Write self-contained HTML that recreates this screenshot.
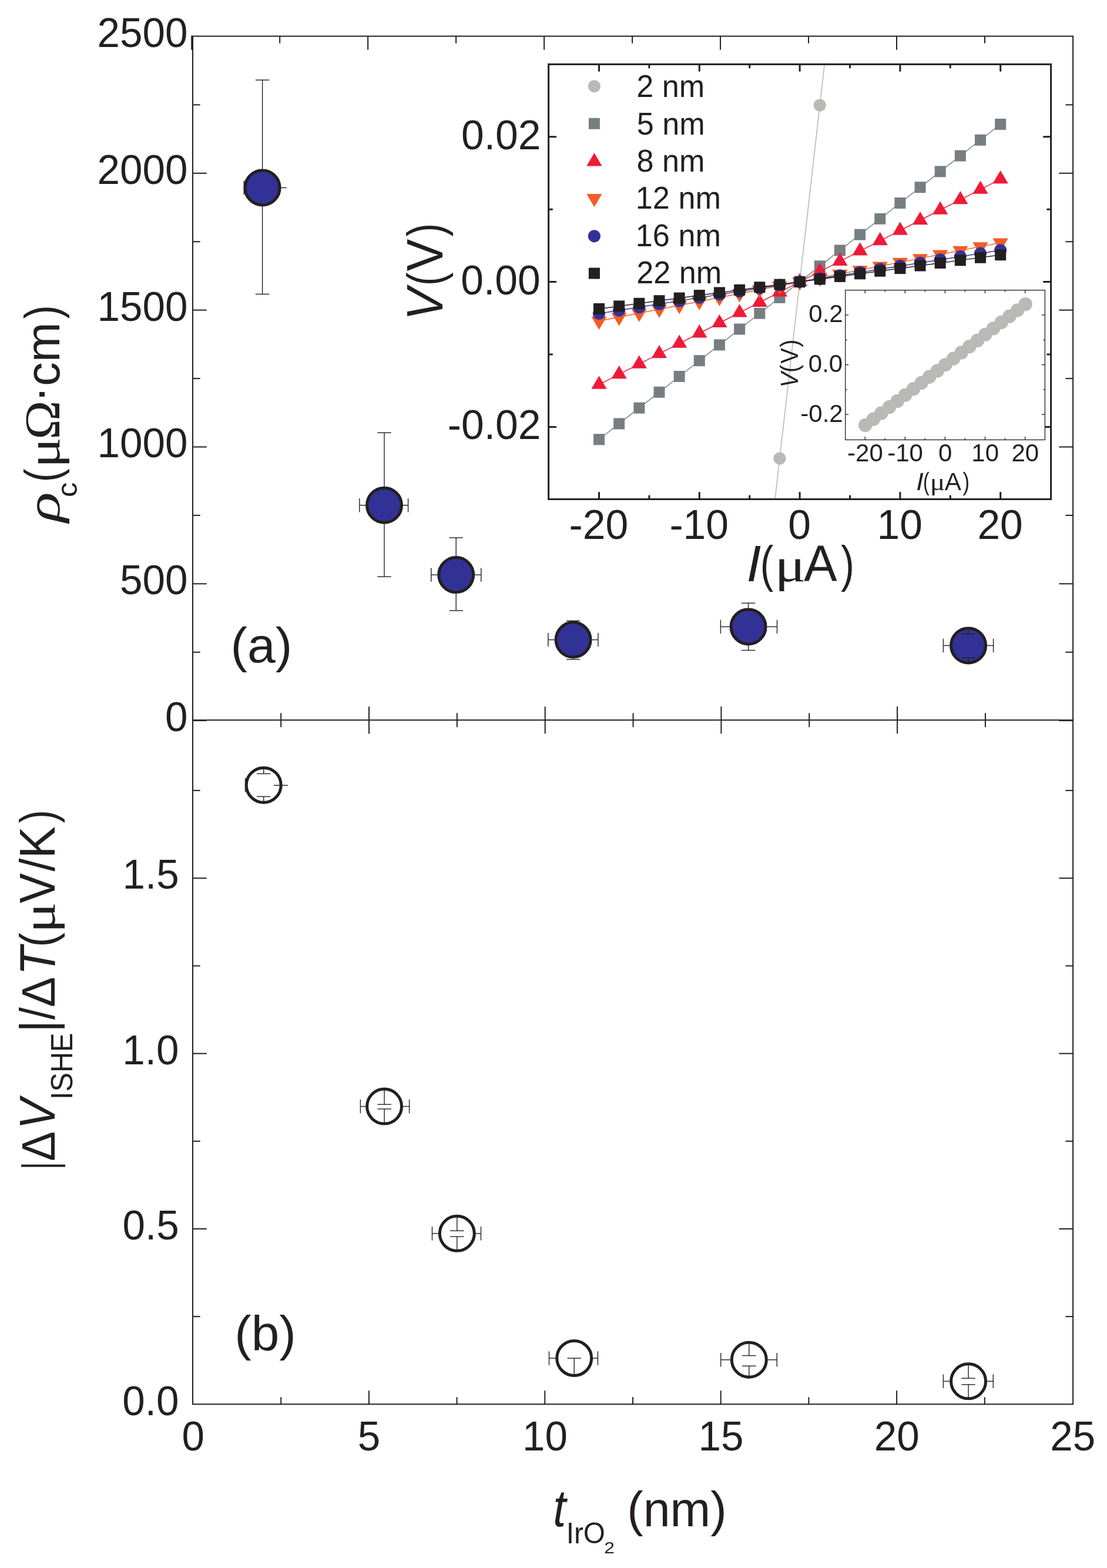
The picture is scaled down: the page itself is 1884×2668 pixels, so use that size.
<!DOCTYPE html>
<html lang="en">
<head>
<meta charset="utf-8">
<title>Figure: resistivity and ISHE voltage versus IrO2 thickness</title>
<style>
html,body{margin:0;padding:0;background:#ffffff;}
body{width:1884px;height:2668px;overflow:hidden;}
svg{display:block;}
text{white-space:pre;}
</style>
</head>
<body>
<svg width="1884" height="2668" viewBox="0 0 1884 2668">
<rect x="0" y="0" width="1884" height="2668" fill="#ffffff"/>
<g id="main-axes" fill="none" stroke-linecap="butt">
<rect x="328" y="61.6" width="1498.1" height="2327.7" fill="none" stroke="#231f20" stroke-width="2"/>
<line x1="328" y1="1225.3" x2="1826.1" y2="1225.3" stroke="#231f20" stroke-width="2"/>
<line x1="326.2" y1="60.6" x2="326.2" y2="84.7" stroke="#231f20" stroke-width="2"/>
<line x1="476.17" y1="61.6" x2="476.17" y2="73.6" stroke="#231f20" stroke-width="2"/>
<line x1="478.15" y1="1213.3" x2="478.15" y2="1237.3" stroke="#231f20" stroke-width="2"/>
<line x1="478.2" y1="2377.3" x2="478.2" y2="2389.3" stroke="#231f20" stroke-width="2"/>
<line x1="626.15" y1="61.6" x2="626.15" y2="84.7" stroke="#231f20" stroke-width="2"/>
<line x1="628" y1="1202.2" x2="628" y2="1248.4" stroke="#231f20" stroke-width="2"/>
<line x1="627.9" y1="2366.2" x2="627.9" y2="2389.3" stroke="#231f20" stroke-width="2"/>
<line x1="776.12" y1="61.6" x2="776.12" y2="73.6" stroke="#231f20" stroke-width="2"/>
<line x1="777.85" y1="1213.3" x2="777.85" y2="1237.3" stroke="#231f20" stroke-width="2"/>
<line x1="777.6" y1="2377.3" x2="777.6" y2="2389.3" stroke="#231f20" stroke-width="2"/>
<line x1="926.1" y1="61.6" x2="926.1" y2="84.7" stroke="#231f20" stroke-width="2"/>
<line x1="927.7" y1="1202.2" x2="927.7" y2="1248.4" stroke="#231f20" stroke-width="2"/>
<line x1="927.3" y1="2366.2" x2="927.3" y2="2389.3" stroke="#231f20" stroke-width="2"/>
<line x1="1076.08" y1="61.6" x2="1076.08" y2="73.6" stroke="#231f20" stroke-width="2"/>
<line x1="1077.55" y1="1213.3" x2="1077.55" y2="1237.3" stroke="#231f20" stroke-width="2"/>
<line x1="1077" y1="2377.3" x2="1077" y2="2389.3" stroke="#231f20" stroke-width="2"/>
<line x1="1226.05" y1="61.6" x2="1226.05" y2="84.7" stroke="#231f20" stroke-width="2"/>
<line x1="1227.4" y1="1202.2" x2="1227.4" y2="1248.4" stroke="#231f20" stroke-width="2"/>
<line x1="1226.7" y1="2366.2" x2="1226.7" y2="2389.3" stroke="#231f20" stroke-width="2"/>
<line x1="1376.03" y1="61.6" x2="1376.03" y2="73.6" stroke="#231f20" stroke-width="2"/>
<line x1="1377.25" y1="1213.3" x2="1377.25" y2="1237.3" stroke="#231f20" stroke-width="2"/>
<line x1="1376.4" y1="2377.3" x2="1376.4" y2="2389.3" stroke="#231f20" stroke-width="2"/>
<line x1="1526" y1="61.6" x2="1526" y2="84.7" stroke="#231f20" stroke-width="2"/>
<line x1="1527.1" y1="1202.2" x2="1527.1" y2="1248.4" stroke="#231f20" stroke-width="2"/>
<line x1="1526.1" y1="2366.2" x2="1526.1" y2="2389.3" stroke="#231f20" stroke-width="2"/>
<line x1="1675.98" y1="61.6" x2="1675.98" y2="73.6" stroke="#231f20" stroke-width="2"/>
<line x1="1676.95" y1="1213.3" x2="1676.95" y2="1237.3" stroke="#231f20" stroke-width="2"/>
<line x1="1675.8" y1="2377.3" x2="1675.8" y2="2389.3" stroke="#231f20" stroke-width="2"/>
<line x1="328" y1="1226.15" x2="351.8" y2="1226.15" stroke="#231f20" stroke-width="2"/>
<line x1="1802.3" y1="1226.15" x2="1826.1" y2="1226.15" stroke="#231f20" stroke-width="2"/>
<line x1="328" y1="1109.73" x2="340.7" y2="1109.73" stroke="#231f20" stroke-width="2"/>
<line x1="1813.4" y1="1109.73" x2="1826.1" y2="1109.73" stroke="#231f20" stroke-width="2"/>
<line x1="328" y1="993.31" x2="351.8" y2="993.31" stroke="#231f20" stroke-width="2"/>
<line x1="1802.3" y1="993.31" x2="1826.1" y2="993.31" stroke="#231f20" stroke-width="2"/>
<line x1="328" y1="876.88" x2="340.7" y2="876.88" stroke="#231f20" stroke-width="2"/>
<line x1="1813.4" y1="876.88" x2="1826.1" y2="876.88" stroke="#231f20" stroke-width="2"/>
<line x1="328" y1="760.46" x2="351.8" y2="760.46" stroke="#231f20" stroke-width="2"/>
<line x1="1802.3" y1="760.46" x2="1826.1" y2="760.46" stroke="#231f20" stroke-width="2"/>
<line x1="328" y1="644.04" x2="340.7" y2="644.04" stroke="#231f20" stroke-width="2"/>
<line x1="1813.4" y1="644.04" x2="1826.1" y2="644.04" stroke="#231f20" stroke-width="2"/>
<line x1="328" y1="527.62" x2="351.8" y2="527.62" stroke="#231f20" stroke-width="2"/>
<line x1="1802.3" y1="527.62" x2="1826.1" y2="527.62" stroke="#231f20" stroke-width="2"/>
<line x1="328" y1="411.19" x2="340.7" y2="411.19" stroke="#231f20" stroke-width="2"/>
<line x1="1813.4" y1="411.19" x2="1826.1" y2="411.19" stroke="#231f20" stroke-width="2"/>
<line x1="328" y1="294.77" x2="351.8" y2="294.77" stroke="#231f20" stroke-width="2"/>
<line x1="1802.3" y1="294.77" x2="1826.1" y2="294.77" stroke="#231f20" stroke-width="2"/>
<line x1="328" y1="178.35" x2="340.7" y2="178.35" stroke="#231f20" stroke-width="2"/>
<line x1="1813.4" y1="178.35" x2="1826.1" y2="178.35" stroke="#231f20" stroke-width="2"/>
<line x1="328" y1="2240.12" x2="340.7" y2="2240.12" stroke="#231f20" stroke-width="2"/>
<line x1="1813.4" y1="2240.12" x2="1826.1" y2="2240.12" stroke="#231f20" stroke-width="2"/>
<line x1="328" y1="2090.95" x2="351.8" y2="2090.95" stroke="#231f20" stroke-width="2"/>
<line x1="1802.3" y1="2090.95" x2="1826.1" y2="2090.95" stroke="#231f20" stroke-width="2"/>
<line x1="328" y1="1941.78" x2="340.7" y2="1941.78" stroke="#231f20" stroke-width="2"/>
<line x1="1813.4" y1="1941.78" x2="1826.1" y2="1941.78" stroke="#231f20" stroke-width="2"/>
<line x1="328" y1="1792.6" x2="351.8" y2="1792.6" stroke="#231f20" stroke-width="2"/>
<line x1="1802.3" y1="1792.6" x2="1826.1" y2="1792.6" stroke="#231f20" stroke-width="2"/>
<line x1="328" y1="1643.43" x2="340.7" y2="1643.43" stroke="#231f20" stroke-width="2"/>
<line x1="1813.4" y1="1643.43" x2="1826.1" y2="1643.43" stroke="#231f20" stroke-width="2"/>
<line x1="328" y1="1494.25" x2="351.8" y2="1494.25" stroke="#231f20" stroke-width="2"/>
<line x1="1802.3" y1="1494.25" x2="1826.1" y2="1494.25" stroke="#231f20" stroke-width="2"/>
<line x1="328" y1="1345.08" x2="340.7" y2="1345.08" stroke="#231f20" stroke-width="2"/>
<line x1="1813.4" y1="1345.08" x2="1826.1" y2="1345.08" stroke="#231f20" stroke-width="2"/>
</g>
<g id="main-ticklabels">
<text transform="translate(280.92 1243.9) scale(1 1.02)" font-family="'Liberation Sans', Arial, sans-serif" font-size="69.2" fill="#231f20">0</text>
<text transform="translate(203.95 1011.16) scale(1 1.02)" font-family="'Liberation Sans', Arial, sans-serif" font-size="69.2" fill="#231f20">500</text>
<text transform="translate(165.46 778.42) scale(1 1.02)" font-family="'Liberation Sans', Arial, sans-serif" font-size="69.2" fill="#231f20">1000</text>
<text transform="translate(165.46 545.68) scale(1 1.02)" font-family="'Liberation Sans', Arial, sans-serif" font-size="69.2" fill="#231f20">1500</text>
<text transform="translate(165.46 312.94) scale(1 1.02)" font-family="'Liberation Sans', Arial, sans-serif" font-size="69.2" fill="#231f20">2000</text>
<text transform="translate(165.46 80.2) scale(1 1.02)" font-family="'Liberation Sans', Arial, sans-serif" font-size="69.2" fill="#231f20">2500</text>
<text transform="translate(208.31 2407.5) scale(1 1.02)" font-family="'Liberation Sans', Arial, sans-serif" font-size="69.2" fill="#231f20">0.0</text>
<text transform="translate(208.51 2109.15) scale(1 1.02)" font-family="'Liberation Sans', Arial, sans-serif" font-size="69.2" fill="#231f20">0.5</text>
<text transform="translate(208.31 1810.8) scale(1 1.02)" font-family="'Liberation Sans', Arial, sans-serif" font-size="69.2" fill="#231f20">1.0</text>
<text transform="translate(208.51 1512.45) scale(1 1.02)" font-family="'Liberation Sans', Arial, sans-serif" font-size="69.2" fill="#231f20">1.5</text>
<text transform="translate(309.46 2468.2) scale(1 1.02)" font-family="'Liberation Sans', Arial, sans-serif" font-size="69.2" fill="#231f20">0</text>
<text transform="translate(608.86 2468.2) scale(1 1.02)" font-family="'Liberation Sans', Arial, sans-serif" font-size="69.2" fill="#231f20">5</text>
<text transform="translate(889.01 2468.2) scale(1 1.02)" font-family="'Liberation Sans', Arial, sans-serif" font-size="69.2" fill="#231f20">10</text>
<text transform="translate(1188.41 2468.2) scale(1 1.02)" font-family="'Liberation Sans', Arial, sans-serif" font-size="69.2" fill="#231f20">15</text>
<text transform="translate(1487.81 2468.2) scale(1 1.02)" font-family="'Liberation Sans', Arial, sans-serif" font-size="69.2" fill="#231f20">20</text>
<text transform="translate(1787.21 2468.2) scale(1 1.02)" font-family="'Liberation Sans', Arial, sans-serif" font-size="69.2" fill="#231f20">25</text>
</g>
<g id="panel-a-data">
<circle cx="446.6" cy="319.4" r="29.5" fill="#323296" stroke="#231f20" stroke-width="5"/>
<line x1="415.3" y1="307.7" x2="415.3" y2="331.1" stroke="#231f20" stroke-width="1.4"/>
<line x1="478.1" y1="319.4" x2="487.8" y2="319.4" stroke="#231f20" stroke-width="1.4"/>
<line x1="446.6" y1="287.9" x2="446.6" y2="136.2" stroke="#231f20" stroke-width="1.4"/>
<line x1="434.9" y1="136.2" x2="458.3" y2="136.2" stroke="#231f20" stroke-width="1.4"/>
<line x1="446.6" y1="350.9" x2="446.6" y2="500.5" stroke="#231f20" stroke-width="1.4"/>
<line x1="434.9" y1="500.5" x2="458.3" y2="500.5" stroke="#231f20" stroke-width="1.4"/>
<circle cx="654" cy="859.7" r="29.5" fill="#323296" stroke="#231f20" stroke-width="5"/>
<line x1="654" y1="827.7" x2="654" y2="736.3" stroke="#231f20" stroke-width="1.4"/>
<line x1="642.3" y1="736.3" x2="665.7" y2="736.3" stroke="#231f20" stroke-width="1.4"/>
<line x1="654" y1="891.7" x2="654" y2="981.3" stroke="#231f20" stroke-width="1.4"/>
<line x1="642.3" y1="981.3" x2="665.7" y2="981.3" stroke="#231f20" stroke-width="1.4"/>
<line x1="622" y1="859.7" x2="611.8" y2="859.7" stroke="#231f20" stroke-width="1.4"/>
<line x1="611.8" y1="848" x2="611.8" y2="871.4" stroke="#231f20" stroke-width="1.4"/>
<line x1="686" y1="859.7" x2="694.6" y2="859.7" stroke="#231f20" stroke-width="1.4"/>
<line x1="694.6" y1="848" x2="694.6" y2="871.4" stroke="#231f20" stroke-width="1.4"/>
<circle cx="776.2" cy="978.1" r="29.5" fill="#323296" stroke="#231f20" stroke-width="5"/>
<line x1="776.2" y1="946.1" x2="776.2" y2="915" stroke="#231f20" stroke-width="1.4"/>
<line x1="764.5" y1="915" x2="787.9" y2="915" stroke="#231f20" stroke-width="1.4"/>
<line x1="776.2" y1="1010.1" x2="776.2" y2="1039" stroke="#231f20" stroke-width="1.4"/>
<line x1="764.5" y1="1039" x2="787.9" y2="1039" stroke="#231f20" stroke-width="1.4"/>
<line x1="744.2" y1="978.1" x2="733.8" y2="978.1" stroke="#231f20" stroke-width="1.4"/>
<line x1="733.8" y1="966.4" x2="733.8" y2="989.8" stroke="#231f20" stroke-width="1.4"/>
<line x1="808.2" y1="978.1" x2="818.8" y2="978.1" stroke="#231f20" stroke-width="1.4"/>
<line x1="818.8" y1="966.4" x2="818.8" y2="989.8" stroke="#231f20" stroke-width="1.4"/>
<circle cx="975.6" cy="1088.6" r="29.5" fill="#323296" stroke="#231f20" stroke-width="5"/>
<line x1="975.6" y1="1056.6" x2="975.6" y2="1056.4" stroke="#231f20" stroke-width="1.4"/>
<line x1="963.9" y1="1056.4" x2="987.3" y2="1056.4" stroke="#231f20" stroke-width="1.4"/>
<line x1="975.6" y1="1120.6" x2="975.6" y2="1122" stroke="#231f20" stroke-width="1.4"/>
<line x1="963.9" y1="1122" x2="987.3" y2="1122" stroke="#231f20" stroke-width="1.4"/>
<line x1="943.6" y1="1088.6" x2="932.9" y2="1088.6" stroke="#231f20" stroke-width="1.4"/>
<line x1="932.9" y1="1076.9" x2="932.9" y2="1100.3" stroke="#231f20" stroke-width="1.4"/>
<line x1="1007.6" y1="1088.6" x2="1017.9" y2="1088.6" stroke="#231f20" stroke-width="1.4"/>
<line x1="1017.9" y1="1076.9" x2="1017.9" y2="1100.3" stroke="#231f20" stroke-width="1.4"/>
<circle cx="1273.6" cy="1066.4" r="29.5" fill="#323296" stroke="#231f20" stroke-width="5"/>
<line x1="1273.6" y1="1034.4" x2="1273.6" y2="1026.2" stroke="#231f20" stroke-width="1.4"/>
<line x1="1261.9" y1="1026.2" x2="1285.3" y2="1026.2" stroke="#231f20" stroke-width="1.4"/>
<line x1="1273.6" y1="1098.4" x2="1273.6" y2="1106.5" stroke="#231f20" stroke-width="1.4"/>
<line x1="1261.9" y1="1106.5" x2="1285.3" y2="1106.5" stroke="#231f20" stroke-width="1.4"/>
<line x1="1241.6" y1="1066.4" x2="1226.4" y2="1066.4" stroke="#231f20" stroke-width="1.4"/>
<line x1="1226.4" y1="1054.7" x2="1226.4" y2="1078.1" stroke="#231f20" stroke-width="1.4"/>
<line x1="1305.6" y1="1066.4" x2="1322.5" y2="1066.4" stroke="#231f20" stroke-width="1.4"/>
<line x1="1322.5" y1="1054.7" x2="1322.5" y2="1078.1" stroke="#231f20" stroke-width="1.4"/>
<circle cx="1648.1" cy="1098.4" r="29.5" fill="#323296" stroke="#231f20" stroke-width="5"/>
<line x1="1648.1" y1="1071.4" x2="1648.1" y2="1078.5" stroke="#231f20" stroke-width="1.4"/>
<line x1="1636.4" y1="1078.5" x2="1659.8" y2="1078.5" stroke="#231f20" stroke-width="1.4"/>
<line x1="1648.1" y1="1125.4" x2="1648.1" y2="1119.4" stroke="#231f20" stroke-width="1.4"/>
<line x1="1636.4" y1="1119.4" x2="1659.8" y2="1119.4" stroke="#231f20" stroke-width="1.4"/>
<line x1="1616.1" y1="1098.4" x2="1605.4" y2="1098.4" stroke="#231f20" stroke-width="1.4"/>
<line x1="1605.4" y1="1086.7" x2="1605.4" y2="1110.1" stroke="#231f20" stroke-width="1.4"/>
<line x1="1680.1" y1="1098.4" x2="1690.6" y2="1098.4" stroke="#231f20" stroke-width="1.4"/>
<line x1="1690.6" y1="1086.7" x2="1690.6" y2="1110.1" stroke="#231f20" stroke-width="1.4"/>
</g>
<g id="panel-b-data">
<circle cx="448.7" cy="1335.9" r="29.5" fill="none" stroke="#231f20" stroke-width="5"/>
<line x1="448.7" y1="1308.4" x2="448.7" y2="1316.5" stroke="#231f20" stroke-width="1.4"/>
<line x1="437" y1="1316.5" x2="460.4" y2="1316.5" stroke="#231f20" stroke-width="1.4"/>
<line x1="448.7" y1="1363.4" x2="448.7" y2="1355.4" stroke="#231f20" stroke-width="1.4"/>
<line x1="437" y1="1355.4" x2="460.4" y2="1355.4" stroke="#231f20" stroke-width="1.4"/>
<line x1="417.5" y1="1324.2" x2="417.5" y2="1347.6" stroke="#231f20" stroke-width="1.4"/>
<line x1="465.9" y1="1336.3" x2="489.9" y2="1336.3" stroke="#231f20" stroke-width="1.4"/>
<circle cx="654.1" cy="1882.6" r="29.5" fill="none" stroke="#231f20" stroke-width="5"/>
<line x1="654.1" y1="1855.1" x2="654.1" y2="1879.2" stroke="#231f20" stroke-width="1.4"/>
<line x1="642.4" y1="1879.2" x2="665.8" y2="1879.2" stroke="#231f20" stroke-width="1.4"/>
<line x1="654.1" y1="1910.1" x2="654.1" y2="1886.9" stroke="#231f20" stroke-width="1.4"/>
<line x1="642.4" y1="1886.9" x2="665.8" y2="1886.9" stroke="#231f20" stroke-width="1.4"/>
<line x1="622.1" y1="1882.6" x2="613.4" y2="1882.6" stroke="#231f20" stroke-width="1.4"/>
<line x1="613.4" y1="1870.9" x2="613.4" y2="1894.3" stroke="#231f20" stroke-width="1.4"/>
<line x1="686.1" y1="1882.6" x2="696.6" y2="1882.6" stroke="#231f20" stroke-width="1.4"/>
<line x1="696.6" y1="1870.9" x2="696.6" y2="1894.3" stroke="#231f20" stroke-width="1.4"/>
<circle cx="777.8" cy="2098.8" r="29.5" fill="none" stroke="#231f20" stroke-width="5"/>
<line x1="777.8" y1="2071.3" x2="777.8" y2="2094.2" stroke="#231f20" stroke-width="1.4"/>
<line x1="766.1" y1="2094.2" x2="789.5" y2="2094.2" stroke="#231f20" stroke-width="1.4"/>
<line x1="777.8" y1="2126.3" x2="777.8" y2="2104.1" stroke="#231f20" stroke-width="1.4"/>
<line x1="766.1" y1="2104.1" x2="789.5" y2="2104.1" stroke="#231f20" stroke-width="1.4"/>
<line x1="745.8" y1="2098.8" x2="735.5" y2="2098.8" stroke="#231f20" stroke-width="1.4"/>
<line x1="735.5" y1="2087.1" x2="735.5" y2="2110.5" stroke="#231f20" stroke-width="1.4"/>
<line x1="809.8" y1="2098.8" x2="818.5" y2="2098.8" stroke="#231f20" stroke-width="1.4"/>
<line x1="818.5" y1="2087.1" x2="818.5" y2="2110.5" stroke="#231f20" stroke-width="1.4"/>
<circle cx="977.2" cy="2311" r="29.5" fill="none" stroke="#231f20" stroke-width="5"/>
<line x1="977.2" y1="2338.5" x2="977.2" y2="2311" stroke="#231f20" stroke-width="1.4"/>
<line x1="965.5" y1="2311" x2="988.9" y2="2311" stroke="#231f20" stroke-width="1.4"/>
<line x1="945.2" y1="2311" x2="934.5" y2="2311" stroke="#231f20" stroke-width="1.4"/>
<line x1="934.5" y1="2299.3" x2="934.5" y2="2322.7" stroke="#231f20" stroke-width="1.4"/>
<line x1="1009.2" y1="2311" x2="1017.4" y2="2311" stroke="#231f20" stroke-width="1.4"/>
<line x1="1017.4" y1="2299.3" x2="1017.4" y2="2322.7" stroke="#231f20" stroke-width="1.4"/>
<circle cx="1274.8" cy="2313.7" r="29.5" fill="none" stroke="#231f20" stroke-width="5"/>
<line x1="1274.8" y1="2286.2" x2="1274.8" y2="2306.6" stroke="#231f20" stroke-width="1.4"/>
<line x1="1263.1" y1="2306.6" x2="1286.5" y2="2306.6" stroke="#231f20" stroke-width="1.4"/>
<line x1="1274.8" y1="2341.2" x2="1274.8" y2="2324.3" stroke="#231f20" stroke-width="1.4"/>
<line x1="1263.1" y1="2324.3" x2="1286.5" y2="2324.3" stroke="#231f20" stroke-width="1.4"/>
<line x1="1242.8" y1="2313.7" x2="1226.7" y2="2313.7" stroke="#231f20" stroke-width="1.4"/>
<line x1="1226.7" y1="2302" x2="1226.7" y2="2325.4" stroke="#231f20" stroke-width="1.4"/>
<line x1="1306.8" y1="2313.7" x2="1322.3" y2="2313.7" stroke="#231f20" stroke-width="1.4"/>
<line x1="1322.3" y1="2302" x2="1322.3" y2="2325.4" stroke="#231f20" stroke-width="1.4"/>
<circle cx="1648.1" cy="2350.3" r="29.5" fill="none" stroke="#231f20" stroke-width="5"/>
<line x1="1648.1" y1="2322.8" x2="1648.1" y2="2345.2" stroke="#231f20" stroke-width="1.4"/>
<line x1="1636.4" y1="2345.2" x2="1659.8" y2="2345.2" stroke="#231f20" stroke-width="1.4"/>
<line x1="1648.1" y1="2377.8" x2="1648.1" y2="2355.9" stroke="#231f20" stroke-width="1.4"/>
<line x1="1636.4" y1="2355.9" x2="1659.8" y2="2355.9" stroke="#231f20" stroke-width="1.4"/>
<line x1="1616.1" y1="2350.3" x2="1605.4" y2="2350.3" stroke="#231f20" stroke-width="1.4"/>
<line x1="1605.4" y1="2338.6" x2="1605.4" y2="2362" stroke="#231f20" stroke-width="1.4"/>
<line x1="1680.1" y1="2350.3" x2="1690.3" y2="2350.3" stroke="#231f20" stroke-width="1.4"/>
<line x1="1690.3" y1="2338.6" x2="1690.3" y2="2362" stroke="#231f20" stroke-width="1.4"/>
</g>
<defs><clipPath id="insetclip"><rect x="933.6" y="107.4" width="855" height="742"/></clipPath></defs>
<g id="inset-data">
<g clip-path="url(#insetclip)">
<line x1="1292.78" y1="1080.31" x2="1429.42" y2="-121.11" stroke="#b9b9b7" stroke-width="1.6"/>
</g>
<circle cx="1326.94" cy="780.08" r="10.6" fill="#b9b9b7"/>
<circle cx="1395.26" cy="179.12" r="10.6" fill="#b9b9b7"/>
<polyline points="1019.5,747.75 1053.66,720.93 1087.82,694.12 1121.98,667.3 1156.14,640.49 1190.3,613.67 1224.46,586.86 1258.62,560.04 1292.78,533.23 1326.94,506.41 1361.1,479.6 1395.26,452.79 1429.42,425.97 1463.58,399.16 1497.74,372.34 1531.9,345.53 1566.06,318.71 1600.22,291.9 1634.38,265.08 1668.54,238.27 1702.7,211.45" fill="none" stroke="#7b8487" stroke-width="1.5"/>
<rect x="1010" y="738.25" width="19" height="19" fill="#767e82"/>
<rect x="1044.16" y="711.43" width="19" height="19" fill="#767e82"/>
<rect x="1078.32" y="684.62" width="19" height="19" fill="#767e82"/>
<rect x="1112.48" y="657.8" width="19" height="19" fill="#767e82"/>
<rect x="1146.64" y="630.99" width="19" height="19" fill="#767e82"/>
<rect x="1180.8" y="604.17" width="19" height="19" fill="#767e82"/>
<rect x="1214.96" y="577.36" width="19" height="19" fill="#767e82"/>
<rect x="1249.12" y="550.54" width="19" height="19" fill="#767e82"/>
<rect x="1283.28" y="523.73" width="19" height="19" fill="#767e82"/>
<rect x="1317.44" y="496.91" width="19" height="19" fill="#767e82"/>
<rect x="1351.6" y="470.1" width="19" height="19" fill="#767e82"/>
<rect x="1385.76" y="443.29" width="19" height="19" fill="#767e82"/>
<rect x="1419.92" y="416.47" width="19" height="19" fill="#767e82"/>
<rect x="1454.08" y="389.66" width="19" height="19" fill="#767e82"/>
<rect x="1488.24" y="362.84" width="19" height="19" fill="#767e82"/>
<rect x="1522.4" y="336.03" width="19" height="19" fill="#767e82"/>
<rect x="1556.56" y="309.21" width="19" height="19" fill="#767e82"/>
<rect x="1590.72" y="282.4" width="19" height="19" fill="#767e82"/>
<rect x="1624.88" y="255.58" width="19" height="19" fill="#767e82"/>
<rect x="1659.04" y="228.77" width="19" height="19" fill="#767e82"/>
<rect x="1693.2" y="201.95" width="19" height="19" fill="#767e82"/>
<polyline points="1019.5,654.33 1053.66,636.86 1087.82,619.39 1121.98,601.91 1156.14,584.44 1190.3,566.97 1224.46,549.49 1258.62,532.02 1292.78,514.55 1326.94,497.07 1361.1,479.6 1395.26,462.13 1429.42,444.65 1463.58,427.18 1497.74,409.71 1531.9,392.23 1566.06,374.76 1600.22,357.29 1634.38,339.81 1668.54,322.34 1702.7,304.87" fill="none" stroke="#ed1b38" stroke-width="1.5"/>
<polygon points="1019.5,639.47 1032.6,661.77 1006.4,661.77" fill="#ed1b38"/>
<polygon points="1053.66,621.99 1066.76,644.29 1040.56,644.29" fill="#ed1b38"/>
<polygon points="1087.82,604.52 1100.92,626.82 1074.72,626.82" fill="#ed1b38"/>
<polygon points="1121.98,587.05 1135.08,609.35 1108.88,609.35" fill="#ed1b38"/>
<polygon points="1156.14,569.57 1169.24,591.87 1143.04,591.87" fill="#ed1b38"/>
<polygon points="1190.3,552.1 1203.4,574.4 1177.2,574.4" fill="#ed1b38"/>
<polygon points="1224.46,534.63 1237.56,556.93 1211.36,556.93" fill="#ed1b38"/>
<polygon points="1258.62,517.15 1271.72,539.45 1245.52,539.45" fill="#ed1b38"/>
<polygon points="1292.78,499.68 1305.88,521.98 1279.68,521.98" fill="#ed1b38"/>
<polygon points="1326.94,482.21 1340.04,504.51 1313.84,504.51" fill="#ed1b38"/>
<polygon points="1361.1,464.73 1374.2,487.03 1348,487.03" fill="#ed1b38"/>
<polygon points="1395.26,447.26 1408.36,469.56 1382.16,469.56" fill="#ed1b38"/>
<polygon points="1429.42,429.79 1442.52,452.09 1416.32,452.09" fill="#ed1b38"/>
<polygon points="1463.58,412.31 1476.68,434.61 1450.48,434.61" fill="#ed1b38"/>
<polygon points="1497.74,394.84 1510.84,417.14 1484.64,417.14" fill="#ed1b38"/>
<polygon points="1531.9,377.37 1545,399.67 1518.8,399.67" fill="#ed1b38"/>
<polygon points="1566.06,359.89 1579.16,382.19 1552.96,382.19" fill="#ed1b38"/>
<polygon points="1600.22,342.42 1613.32,364.72 1587.12,364.72" fill="#ed1b38"/>
<polygon points="1634.38,324.95 1647.48,347.25 1621.28,347.25" fill="#ed1b38"/>
<polygon points="1668.54,307.47 1681.64,329.77 1655.44,329.77" fill="#ed1b38"/>
<polygon points="1702.7,290 1715.8,312.3 1689.6,312.3" fill="#ed1b38"/>
<polyline points="1019.5,546.24 1053.66,539.57 1087.82,532.91 1121.98,526.25 1156.14,519.58 1190.3,512.92 1224.46,506.25 1258.62,499.59 1292.78,492.93 1326.94,486.26 1361.1,479.6 1395.26,472.94 1429.42,466.27 1463.58,459.61 1497.74,452.95 1531.9,446.28 1566.06,439.62 1600.22,432.95 1634.38,426.29 1668.54,419.63 1702.7,412.96" fill="none" stroke="#f15d27" stroke-width="1.5"/>
<polygon points="1019.5,561.1 1032.6,538.8 1006.4,538.8" fill="#f15d27"/>
<polygon points="1053.66,554.44 1066.76,532.14 1040.56,532.14" fill="#f15d27"/>
<polygon points="1087.82,547.78 1100.92,525.48 1074.72,525.48" fill="#f15d27"/>
<polygon points="1121.98,541.11 1135.08,518.81 1108.88,518.81" fill="#f15d27"/>
<polygon points="1156.14,534.45 1169.24,512.15 1143.04,512.15" fill="#f15d27"/>
<polygon points="1190.3,527.78 1203.4,505.48 1177.2,505.48" fill="#f15d27"/>
<polygon points="1224.46,521.12 1237.56,498.82 1211.36,498.82" fill="#f15d27"/>
<polygon points="1258.62,514.46 1271.72,492.16 1245.52,492.16" fill="#f15d27"/>
<polygon points="1292.78,507.79 1305.88,485.49 1279.68,485.49" fill="#f15d27"/>
<polygon points="1326.94,501.13 1340.04,478.83 1313.84,478.83" fill="#f15d27"/>
<polygon points="1361.1,494.47 1374.2,472.17 1348,472.17" fill="#f15d27"/>
<polygon points="1395.26,487.8 1408.36,465.5 1382.16,465.5" fill="#f15d27"/>
<polygon points="1429.42,481.14 1442.52,458.84 1416.32,458.84" fill="#f15d27"/>
<polygon points="1463.58,474.48 1476.68,452.18 1450.48,452.18" fill="#f15d27"/>
<polygon points="1497.74,467.81 1510.84,445.51 1484.64,445.51" fill="#f15d27"/>
<polygon points="1531.9,461.15 1545,438.85 1518.8,438.85" fill="#f15d27"/>
<polygon points="1566.06,454.49 1579.16,432.19 1552.96,432.19" fill="#f15d27"/>
<polygon points="1600.22,447.82 1613.32,425.52 1587.12,425.52" fill="#f15d27"/>
<polygon points="1634.38,441.16 1647.48,418.86 1621.28,418.86" fill="#f15d27"/>
<polygon points="1668.54,434.49 1681.64,412.19 1655.44,412.19" fill="#f15d27"/>
<polygon points="1702.7,427.83 1715.8,405.53 1689.6,405.53" fill="#f15d27"/>
<polyline points="1019.5,533.4 1053.66,528.02 1087.82,522.64 1121.98,517.26 1156.14,511.88 1190.3,506.5 1224.46,501.12 1258.62,495.74 1292.78,490.36 1326.94,484.98 1361.1,479.6 1395.26,474.22 1429.42,468.84 1463.58,463.46 1497.74,458.08 1531.9,452.7 1566.06,447.32 1600.22,441.94 1634.38,436.56 1668.54,431.18 1702.7,425.8" fill="none" stroke="#323296" stroke-width="1.5"/>
<circle cx="1019.5" cy="533.4" r="10.6" fill="#323296"/>
<circle cx="1053.66" cy="528.02" r="10.6" fill="#323296"/>
<circle cx="1087.82" cy="522.64" r="10.6" fill="#323296"/>
<circle cx="1121.98" cy="517.26" r="10.6" fill="#323296"/>
<circle cx="1156.14" cy="511.88" r="10.6" fill="#323296"/>
<circle cx="1190.3" cy="506.5" r="10.6" fill="#323296"/>
<circle cx="1224.46" cy="501.12" r="10.6" fill="#323296"/>
<circle cx="1258.62" cy="495.74" r="10.6" fill="#323296"/>
<circle cx="1292.78" cy="490.36" r="10.6" fill="#323296"/>
<circle cx="1326.94" cy="484.98" r="10.6" fill="#323296"/>
<circle cx="1361.1" cy="479.6" r="10.6" fill="#323296"/>
<circle cx="1395.26" cy="474.22" r="10.6" fill="#323296"/>
<circle cx="1429.42" cy="468.84" r="10.6" fill="#323296"/>
<circle cx="1463.58" cy="463.46" r="10.6" fill="#323296"/>
<circle cx="1497.74" cy="458.08" r="10.6" fill="#323296"/>
<circle cx="1531.9" cy="452.7" r="10.6" fill="#323296"/>
<circle cx="1566.06" cy="447.32" r="10.6" fill="#323296"/>
<circle cx="1600.22" cy="441.94" r="10.6" fill="#323296"/>
<circle cx="1634.38" cy="436.56" r="10.6" fill="#323296"/>
<circle cx="1668.54" cy="431.18" r="10.6" fill="#323296"/>
<circle cx="1702.7" cy="425.8" r="10.6" fill="#323296"/>
<polyline points="1019.5,525.5 1053.66,520.91 1087.82,516.32 1121.98,511.73 1156.14,507.14 1190.3,502.55 1224.46,497.96 1258.62,493.37 1292.78,488.78 1326.94,484.19 1361.1,479.6 1395.26,475.01 1429.42,470.42 1463.58,465.83 1497.74,461.24 1531.9,456.65 1566.06,452.06 1600.22,447.47 1634.38,442.88 1668.54,438.29 1702.7,433.7" fill="none" stroke="#231f20" stroke-width="1.5"/>
<rect x="1010" y="516" width="19" height="19" fill="#231f20"/>
<rect x="1044.16" y="511.41" width="19" height="19" fill="#231f20"/>
<rect x="1078.32" y="506.82" width="19" height="19" fill="#231f20"/>
<rect x="1112.48" y="502.23" width="19" height="19" fill="#231f20"/>
<rect x="1146.64" y="497.64" width="19" height="19" fill="#231f20"/>
<rect x="1180.8" y="493.05" width="19" height="19" fill="#231f20"/>
<rect x="1214.96" y="488.46" width="19" height="19" fill="#231f20"/>
<rect x="1249.12" y="483.87" width="19" height="19" fill="#231f20"/>
<rect x="1283.28" y="479.28" width="19" height="19" fill="#231f20"/>
<rect x="1317.44" y="474.69" width="19" height="19" fill="#231f20"/>
<rect x="1351.6" y="470.1" width="19" height="19" fill="#231f20"/>
<rect x="1385.76" y="465.51" width="19" height="19" fill="#231f20"/>
<rect x="1419.92" y="460.92" width="19" height="19" fill="#231f20"/>
<rect x="1454.08" y="456.33" width="19" height="19" fill="#231f20"/>
<rect x="1488.24" y="451.74" width="19" height="19" fill="#231f20"/>
<rect x="1522.4" y="447.15" width="19" height="19" fill="#231f20"/>
<rect x="1556.56" y="442.56" width="19" height="19" fill="#231f20"/>
<rect x="1590.72" y="437.97" width="19" height="19" fill="#231f20"/>
<rect x="1624.88" y="433.38" width="19" height="19" fill="#231f20"/>
<rect x="1659.04" y="428.79" width="19" height="19" fill="#231f20"/>
<rect x="1693.2" y="424.2" width="19" height="19" fill="#231f20"/>
</g>
<g id="inset-axes">
<rect x="933.6" y="109.4" width="855" height="740" fill="none" stroke="#231f20" stroke-width="3"/>
<line x1="1019.5" y1="109.4" x2="1019.5" y2="120.6" stroke="#231f20" stroke-width="3" stroke-linecap="round"/>
<line x1="1019.5" y1="838.2" x2="1019.5" y2="849.4" stroke="#231f20" stroke-width="3" stroke-linecap="round"/>
<line x1="1104.9" y1="109.4" x2="1104.9" y2="115" stroke="#231f20" stroke-width="3" stroke-linecap="round"/>
<line x1="1104.9" y1="843.8" x2="1104.9" y2="849.4" stroke="#231f20" stroke-width="3" stroke-linecap="round"/>
<line x1="1190.3" y1="109.4" x2="1190.3" y2="120.6" stroke="#231f20" stroke-width="3" stroke-linecap="round"/>
<line x1="1190.3" y1="838.2" x2="1190.3" y2="849.4" stroke="#231f20" stroke-width="3" stroke-linecap="round"/>
<line x1="1275.7" y1="109.4" x2="1275.7" y2="115" stroke="#231f20" stroke-width="3" stroke-linecap="round"/>
<line x1="1275.7" y1="843.8" x2="1275.7" y2="849.4" stroke="#231f20" stroke-width="3" stroke-linecap="round"/>
<line x1="1361.1" y1="109.4" x2="1361.1" y2="120.6" stroke="#231f20" stroke-width="3" stroke-linecap="round"/>
<line x1="1361.1" y1="838.2" x2="1361.1" y2="849.4" stroke="#231f20" stroke-width="3" stroke-linecap="round"/>
<line x1="1446.5" y1="109.4" x2="1446.5" y2="115" stroke="#231f20" stroke-width="3" stroke-linecap="round"/>
<line x1="1446.5" y1="843.8" x2="1446.5" y2="849.4" stroke="#231f20" stroke-width="3" stroke-linecap="round"/>
<line x1="1531.9" y1="109.4" x2="1531.9" y2="120.6" stroke="#231f20" stroke-width="3" stroke-linecap="round"/>
<line x1="1531.9" y1="838.2" x2="1531.9" y2="849.4" stroke="#231f20" stroke-width="3" stroke-linecap="round"/>
<line x1="1617.3" y1="109.4" x2="1617.3" y2="115" stroke="#231f20" stroke-width="3" stroke-linecap="round"/>
<line x1="1617.3" y1="843.8" x2="1617.3" y2="849.4" stroke="#231f20" stroke-width="3" stroke-linecap="round"/>
<line x1="1702.7" y1="109.4" x2="1702.7" y2="120.6" stroke="#231f20" stroke-width="3" stroke-linecap="round"/>
<line x1="1702.7" y1="838.2" x2="1702.7" y2="849.4" stroke="#231f20" stroke-width="3" stroke-linecap="round"/>
<line x1="933.6" y1="726.4" x2="945.8" y2="726.4" stroke="#231f20" stroke-width="3" stroke-linecap="round"/>
<line x1="1776.4" y1="726.4" x2="1788.6" y2="726.4" stroke="#231f20" stroke-width="3" stroke-linecap="round"/>
<line x1="933.6" y1="603" x2="939.6" y2="603" stroke="#231f20" stroke-width="3" stroke-linecap="round"/>
<line x1="1782.6" y1="603" x2="1788.6" y2="603" stroke="#231f20" stroke-width="3" stroke-linecap="round"/>
<line x1="933.6" y1="479.6" x2="945.8" y2="479.6" stroke="#231f20" stroke-width="3" stroke-linecap="round"/>
<line x1="1776.4" y1="479.6" x2="1788.6" y2="479.6" stroke="#231f20" stroke-width="3" stroke-linecap="round"/>
<line x1="933.6" y1="356.2" x2="939.6" y2="356.2" stroke="#231f20" stroke-width="3" stroke-linecap="round"/>
<line x1="1782.6" y1="356.2" x2="1788.6" y2="356.2" stroke="#231f20" stroke-width="3" stroke-linecap="round"/>
<line x1="933.6" y1="232.8" x2="945.8" y2="232.8" stroke="#231f20" stroke-width="3" stroke-linecap="round"/>
<line x1="1776.4" y1="232.8" x2="1788.6" y2="232.8" stroke="#231f20" stroke-width="3" stroke-linecap="round"/>
</g>
<g id="inset-ticklabels">
<text transform="translate(785.04 253.7) scale(1 1.02)" font-family="'Liberation Sans', Arial, sans-serif" font-size="69.6" fill="#231f20">0.02</text>
<text transform="translate(784.26 500.5) scale(1 1.02)" font-family="'Liberation Sans', Arial, sans-serif" font-size="69.6" fill="#231f20">0.00</text>
<text transform="translate(761.86 747.3) scale(1 1.02)" font-family="'Liberation Sans', Arial, sans-serif" font-size="69.6" fill="#231f20">-0.02</text>
<text transform="translate(968.6 917) scale(1 1.02)" font-family="'Liberation Sans', Arial, sans-serif" font-size="69.6" fill="#231f20">-20</text>
<text transform="translate(1139.4 917) scale(1 1.02)" font-family="'Liberation Sans', Arial, sans-serif" font-size="69.6" fill="#231f20">-10</text>
<text transform="translate(1341.15 917) scale(1 1.02)" font-family="'Liberation Sans', Arial, sans-serif" font-size="69.6" fill="#231f20">0</text>
<text transform="translate(1492.59 917) scale(1 1.02)" font-family="'Liberation Sans', Arial, sans-serif" font-size="69.6" fill="#231f20">10</text>
<text transform="translate(1663.39 917) scale(1 1.02)" font-family="'Liberation Sans', Arial, sans-serif" font-size="69.6" fill="#231f20">20</text>
</g>
<g id="legend">
<circle cx="1011.4" cy="146.8" r="10.6" fill="#b9b9b7"/>
<text transform="translate(1083.17 165) scale(1 1.02)" font-family="'Liberation Sans', Arial, sans-serif" font-size="52.2" fill="#231f20">2 nm</text>
<rect x="1001.9" y="200.8" width="19" height="19" fill="#767e82"/>
<text transform="translate(1083.71 228.8) scale(1 1.02)" font-family="'Liberation Sans', Arial, sans-serif" font-size="52.2" fill="#231f20">5 nm</text>
<polygon points="1011.4,260.13 1024.5,282.43 998.3,282.43" fill="#ed1b38"/>
<text transform="translate(1083.53 292) scale(1 1.02)" font-family="'Liberation Sans', Arial, sans-serif" font-size="52.2" fill="#231f20">8 nm</text>
<polygon points="1011.4,352.37 1024.5,330.07 998.3,330.07" fill="#f15d27"/>
<text transform="translate(1081.82 355.3) scale(1 1.02)" font-family="'Liberation Sans', Arial, sans-serif" font-size="52.2" fill="#231f20">12 nm</text>
<circle cx="1011.4" cy="401.8" r="10.6" fill="#323296"/>
<text transform="translate(1081.82 419.4) scale(1 1.02)" font-family="'Liberation Sans', Arial, sans-serif" font-size="52.2" fill="#231f20">16 nm</text>
<rect x="1001.9" y="455.6" width="19" height="19" fill="#231f20"/>
<text transform="translate(1083.17 481.7) scale(1 1.02)" font-family="'Liberation Sans', Arial, sans-serif" font-size="52.2" fill="#231f20">22 nm</text>
</g>
<g id="inner-inset">
<rect x="1438.7" y="493.7" width="339.7" height="254.7" fill="#ffffff" stroke="#231f20" stroke-width="1.3"/>
<line x1="1472.2" y1="493.7" x2="1472.2" y2="499.2" stroke="#231f20" stroke-width="1.3"/>
<line x1="1472.2" y1="742.9" x2="1472.2" y2="748.4" stroke="#231f20" stroke-width="1.3"/>
<line x1="1506.25" y1="493.7" x2="1506.25" y2="496.7" stroke="#231f20" stroke-width="1.3"/>
<line x1="1506.25" y1="745.4" x2="1506.25" y2="748.4" stroke="#231f20" stroke-width="1.3"/>
<line x1="1540.3" y1="493.7" x2="1540.3" y2="499.2" stroke="#231f20" stroke-width="1.3"/>
<line x1="1540.3" y1="742.9" x2="1540.3" y2="748.4" stroke="#231f20" stroke-width="1.3"/>
<line x1="1574.35" y1="493.7" x2="1574.35" y2="496.7" stroke="#231f20" stroke-width="1.3"/>
<line x1="1574.35" y1="745.4" x2="1574.35" y2="748.4" stroke="#231f20" stroke-width="1.3"/>
<line x1="1608.4" y1="493.7" x2="1608.4" y2="499.2" stroke="#231f20" stroke-width="1.3"/>
<line x1="1608.4" y1="742.9" x2="1608.4" y2="748.4" stroke="#231f20" stroke-width="1.3"/>
<line x1="1642.45" y1="493.7" x2="1642.45" y2="496.7" stroke="#231f20" stroke-width="1.3"/>
<line x1="1642.45" y1="745.4" x2="1642.45" y2="748.4" stroke="#231f20" stroke-width="1.3"/>
<line x1="1676.5" y1="493.7" x2="1676.5" y2="499.2" stroke="#231f20" stroke-width="1.3"/>
<line x1="1676.5" y1="742.9" x2="1676.5" y2="748.4" stroke="#231f20" stroke-width="1.3"/>
<line x1="1710.55" y1="493.7" x2="1710.55" y2="496.7" stroke="#231f20" stroke-width="1.3"/>
<line x1="1710.55" y1="745.4" x2="1710.55" y2="748.4" stroke="#231f20" stroke-width="1.3"/>
<line x1="1744.6" y1="493.7" x2="1744.6" y2="499.2" stroke="#231f20" stroke-width="1.3"/>
<line x1="1744.6" y1="742.9" x2="1744.6" y2="748.4" stroke="#231f20" stroke-width="1.3"/>
<line x1="1438.7" y1="705.2" x2="1444.2" y2="705.2" stroke="#231f20" stroke-width="1.3"/>
<line x1="1772.9" y1="705.2" x2="1778.4" y2="705.2" stroke="#231f20" stroke-width="1.3"/>
<line x1="1438.7" y1="662.9" x2="1441.7" y2="662.9" stroke="#231f20" stroke-width="1.3"/>
<line x1="1775.4" y1="662.9" x2="1778.4" y2="662.9" stroke="#231f20" stroke-width="1.3"/>
<line x1="1438.7" y1="620.6" x2="1444.2" y2="620.6" stroke="#231f20" stroke-width="1.3"/>
<line x1="1772.9" y1="620.6" x2="1778.4" y2="620.6" stroke="#231f20" stroke-width="1.3"/>
<line x1="1438.7" y1="578.3" x2="1441.7" y2="578.3" stroke="#231f20" stroke-width="1.3"/>
<line x1="1775.4" y1="578.3" x2="1778.4" y2="578.3" stroke="#231f20" stroke-width="1.3"/>
<line x1="1438.7" y1="536" x2="1444.2" y2="536" stroke="#231f20" stroke-width="1.3"/>
<line x1="1772.9" y1="536" x2="1778.4" y2="536" stroke="#231f20" stroke-width="1.3"/>
<circle cx="1472.7" cy="723.56" r="11.7" fill="#b9b9b7"/>
<circle cx="1486.32" cy="713.26" r="11.7" fill="#b9b9b7"/>
<circle cx="1499.94" cy="702.97" r="11.7" fill="#b9b9b7"/>
<circle cx="1513.56" cy="692.67" r="11.7" fill="#b9b9b7"/>
<circle cx="1527.18" cy="682.37" r="11.7" fill="#b9b9b7"/>
<circle cx="1540.8" cy="672.08" r="11.7" fill="#b9b9b7"/>
<circle cx="1554.42" cy="661.78" r="11.7" fill="#b9b9b7"/>
<circle cx="1568.04" cy="651.49" r="11.7" fill="#b9b9b7"/>
<circle cx="1581.66" cy="641.19" r="11.7" fill="#b9b9b7"/>
<circle cx="1595.28" cy="630.9" r="11.7" fill="#b9b9b7"/>
<circle cx="1608.9" cy="620.6" r="11.7" fill="#b9b9b7"/>
<circle cx="1622.52" cy="610.3" r="11.7" fill="#b9b9b7"/>
<circle cx="1636.14" cy="600.01" r="11.7" fill="#b9b9b7"/>
<circle cx="1649.76" cy="589.71" r="11.7" fill="#b9b9b7"/>
<circle cx="1663.38" cy="579.42" r="11.7" fill="#b9b9b7"/>
<circle cx="1677" cy="569.12" r="11.7" fill="#b9b9b7"/>
<circle cx="1690.62" cy="558.83" r="11.7" fill="#b9b9b7"/>
<circle cx="1704.24" cy="548.53" r="11.7" fill="#b9b9b7"/>
<circle cx="1717.86" cy="538.23" r="11.7" fill="#b9b9b7"/>
<circle cx="1731.48" cy="527.94" r="11.7" fill="#b9b9b7"/>
<circle cx="1745.1" cy="517.64" r="11.7" fill="#b9b9b7"/>
<text transform="translate(1376.33 548.3) scale(1 1.02)" font-family="'Liberation Sans', Arial, sans-serif" font-size="42" fill="#231f20">0.2</text>
<text transform="translate(1375.85 632.9) scale(1 1.02)" font-family="'Liberation Sans', Arial, sans-serif" font-size="42" fill="#231f20">0.0</text>
<text transform="translate(1362.34 717.5) scale(1 1.02)" font-family="'Liberation Sans', Arial, sans-serif" font-size="42" fill="#231f20">-0.2</text>
<text transform="translate(1442.05 785.2) scale(1 1.02)" font-family="'Liberation Sans', Arial, sans-serif" font-size="42" fill="#231f20">-20</text>
<text transform="translate(1510.15 785.2) scale(1 1.02)" font-family="'Liberation Sans', Arial, sans-serif" font-size="42" fill="#231f20">-10</text>
<text transform="translate(1596.92 785.2) scale(1 1.02)" font-family="'Liberation Sans', Arial, sans-serif" font-size="42" fill="#231f20">0</text>
<text transform="translate(1653.34 785.2) scale(1 1.02)" font-family="'Liberation Sans', Arial, sans-serif" font-size="42" fill="#231f20">10</text>
<text transform="translate(1721.44 785.2) scale(1 1.02)" font-family="'Liberation Sans', Arial, sans-serif" font-size="42" fill="#231f20">20</text>
</g>
<g id="ylabel-a">
<text transform="rotate(-90)" fill="#231f20"><tspan x="-888.68" y="101.4" font-family="'Liberation Serif', 'DejaVu Serif', serif" font-size="80" font-style="italic" textLength="51.42" lengthAdjust="spacingAndGlyphs">ρ</tspan><tspan x="-846.06" y="131" font-family="'Liberation Sans', Arial, sans-serif" font-size="49" textLength="25.4" lengthAdjust="spacingAndGlyphs">c</tspan><tspan x="-820.43" y="101.4" font-family="'Liberation Sans', Arial, sans-serif" font-size="83" textLength="23.24" lengthAdjust="spacingAndGlyphs">(</tspan><tspan x="-796.19" y="101.4" font-family="'Liberation Serif', 'DejaVu Serif', serif" font-size="78" textLength="52.18" lengthAdjust="spacingAndGlyphs">μ</tspan><tspan x="-748.04" y="101.4" font-family="'Liberation Serif', 'DejaVu Serif', serif" font-size="84" textLength="66.69" lengthAdjust="spacingAndGlyphs">Ω</tspan><tspan x="-684.75" y="94.4" font-family="'Liberation Sans', Arial, sans-serif" font-size="83">·</tspan><tspan x="-657.07" y="101.4" font-family="'Liberation Sans', Arial, sans-serif" font-size="81.34" textLength="108.74" lengthAdjust="spacingAndGlyphs">cm</tspan><tspan x="-542.61" y="101.4" font-family="'Liberation Sans', Arial, sans-serif" font-size="83" textLength="23.24" lengthAdjust="spacingAndGlyphs">)</tspan></text>
</g>
<g id="ylabel-b">
<text transform="rotate(-90)" fill="#231f20"><tspan x="-1989.91" y="93.8" font-family="'Liberation Sans', Arial, sans-serif" font-size="78.85" textLength="12.82" lengthAdjust="spacingAndGlyphs">|</tspan><tspan x="-1975.76" y="93.2" font-family="'Liberation Sans', Arial, sans-serif" font-size="80.51" textLength="50.76" lengthAdjust="spacingAndGlyphs">Δ</tspan><tspan x="-1921.44" y="93.2" font-family="'Liberation Sans', Arial, sans-serif" font-size="85.49" font-style="italic" textLength="51.99" lengthAdjust="spacingAndGlyphs">V</tspan><tspan x="-1871.09" y="122.6" font-family="'Liberation Sans', Arial, sans-serif" font-size="51.5" textLength="113.58" lengthAdjust="spacingAndGlyphs">ISHE</tspan><tspan x="-1756.67" y="93.2" font-family="'Liberation Sans', Arial, sans-serif" font-size="83" textLength="20.83" lengthAdjust="spacingAndGlyphs">|</tspan><tspan x="-1735" y="93.2" font-family="'Liberation Sans', Arial, sans-serif" font-size="83" textLength="21.1" lengthAdjust="spacingAndGlyphs">/</tspan><tspan x="-1713.81" y="93.2" font-family="'Liberation Sans', Arial, sans-serif" font-size="80.51" textLength="51.75" lengthAdjust="spacingAndGlyphs">Δ</tspan><tspan x="-1659.42" y="93.2" font-family="'Liberation Sans', Arial, sans-serif" font-size="85.49" font-style="italic" textLength="49.07" lengthAdjust="spacingAndGlyphs">T</tspan><tspan x="-1611.58" y="93.2" font-family="'Liberation Sans', Arial, sans-serif" font-size="83" textLength="24.62" lengthAdjust="spacingAndGlyphs">(</tspan><tspan x="-1587.43" y="93.2" font-family="'Liberation Serif', 'DejaVu Serif', serif" font-size="78" textLength="52.44" lengthAdjust="spacingAndGlyphs">μ</tspan><tspan x="-1536.74" y="93.2" font-family="'Liberation Sans', Arial, sans-serif" font-size="85.49" textLength="51.07" lengthAdjust="spacingAndGlyphs">V</tspan><tspan x="-1482.8" y="93.2" font-family="'Liberation Sans', Arial, sans-serif" font-size="83" textLength="22.2" lengthAdjust="spacingAndGlyphs">/</tspan><tspan x="-1460.83" y="93.2" font-family="'Liberation Sans', Arial, sans-serif" font-size="85.49" textLength="54.76" lengthAdjust="spacingAndGlyphs">K</tspan><tspan x="-1400.39" y="93.2" font-family="'Liberation Sans', Arial, sans-serif" font-size="83" textLength="22.36" lengthAdjust="spacingAndGlyphs">)</tspan></text>
</g>
<g id="xlabel">
<text fill="#231f20"><tspan x="941.2" y="2596.9" font-family="'Liberation Sans', Arial, sans-serif" font-size="88.2" font-style="italic" textLength="22.05" lengthAdjust="spacingAndGlyphs">t</tspan><tspan x="963.69" y="2625.9" font-family="'Liberation Sans', Arial, sans-serif" font-size="49.98" textLength="66.29" lengthAdjust="spacingAndGlyphs">IrO</tspan><tspan x="1028.2" y="2643" font-family="'Liberation Sans', Arial, sans-serif" font-size="28" textLength="17.7" lengthAdjust="spacingAndGlyphs">2</tspan><tspan x="1044.27" y="2596.9" font-family="'Liberation Sans', Arial, sans-serif" font-size="82.5"> (nm)</tspan></text>
</g>
<g id="panel-labels">
<text fill="#231f20"><tspan x="392.59" y="1126.5" font-family="'Liberation Sans', Arial, sans-serif" font-size="84" textLength="104.73" lengthAdjust="spacingAndGlyphs">(a)</tspan></text>
<text fill="#231f20"><tspan x="399.19" y="2297.7" font-family="'Liberation Sans', Arial, sans-serif" font-size="84" textLength="104.62" lengthAdjust="spacingAndGlyphs">(b)</tspan></text>
</g>
<g id="inset-labels">
<text fill="#231f20"><tspan x="1270.56" y="989.3" font-family="'Liberation Sans', Arial, sans-serif" font-size="87.55" font-style="italic" textLength="24.84" lengthAdjust="spacingAndGlyphs">I</tspan><tspan x="1293.79" y="989.3" font-family="'Liberation Sans', Arial, sans-serif" font-size="85" textLength="22.61" lengthAdjust="spacingAndGlyphs">(</tspan><tspan x="1318.41" y="989.3" font-family="'Liberation Serif', 'DejaVu Serif', serif" font-size="80" textLength="52.83" lengthAdjust="spacingAndGlyphs">μ</tspan><tspan x="1368.24" y="989.3" font-family="'Liberation Sans', Arial, sans-serif" font-size="87.55" textLength="56.33" lengthAdjust="spacingAndGlyphs">A</tspan><tspan x="1431.1" y="989.3" font-family="'Liberation Sans', Arial, sans-serif" font-size="85" textLength="22.98" lengthAdjust="spacingAndGlyphs">)</tspan></text>
<text transform="rotate(-90)" fill="#231f20"><tspan x="-544.98" y="753" font-family="'Liberation Sans', Arial, sans-serif" font-size="87.55" font-style="italic" textLength="54.62" lengthAdjust="spacingAndGlyphs">V</tspan><tspan x="-486.21" y="753" font-family="'Liberation Sans', Arial, sans-serif" font-size="85" textLength="22.61" lengthAdjust="spacingAndGlyphs">(</tspan><tspan x="-461.36" y="753" font-family="'Liberation Sans', Arial, sans-serif" font-size="87.55" textLength="54.72" lengthAdjust="spacingAndGlyphs">V</tspan><tspan x="-402.4" y="753" font-family="'Liberation Sans', Arial, sans-serif" font-size="85" textLength="22.73" lengthAdjust="spacingAndGlyphs">)</tspan></text>
</g>
<g id="inner-inset-labels">
<text fill="#231f20"><tspan x="1559.32" y="834.4" font-family="'Liberation Sans', Arial, sans-serif" font-size="43.26" font-style="italic" textLength="12.48" lengthAdjust="spacingAndGlyphs">I</tspan><tspan x="1571.11" y="834.4" font-family="'Liberation Sans', Arial, sans-serif" font-size="42" textLength="10.68" lengthAdjust="spacingAndGlyphs">(</tspan><tspan x="1582.72" y="834.4" font-family="'Liberation Serif', 'DejaVu Serif', serif" font-size="40" textLength="25.64" lengthAdjust="spacingAndGlyphs">μ</tspan><tspan x="1607.82" y="834.4" font-family="'Liberation Sans', Arial, sans-serif" font-size="43.26" textLength="28.27" lengthAdjust="spacingAndGlyphs">A</tspan><tspan x="1638.59" y="834.4" font-family="'Liberation Sans', Arial, sans-serif" font-size="42" textLength="11.68" lengthAdjust="spacingAndGlyphs">)</tspan></text>
<text transform="rotate(-90)" fill="#231f20"><tspan x="-659.39" y="1358.4" font-family="'Liberation Sans', Arial, sans-serif" font-size="43.26" font-style="italic" textLength="26.14" lengthAdjust="spacingAndGlyphs">V</tspan><tspan x="-633.96" y="1358.4" font-family="'Liberation Sans', Arial, sans-serif" font-size="42" textLength="13.19" lengthAdjust="spacingAndGlyphs">(</tspan><tspan x="-618.57" y="1358.4" font-family="'Liberation Sans', Arial, sans-serif" font-size="43.26" textLength="26.25" lengthAdjust="spacingAndGlyphs">V</tspan><tspan x="-590.73" y="1358.4" font-family="'Liberation Sans', Arial, sans-serif" font-size="42" textLength="13.19" lengthAdjust="spacingAndGlyphs">)</tspan></text>
</g>
</svg>
</body>
</html>
